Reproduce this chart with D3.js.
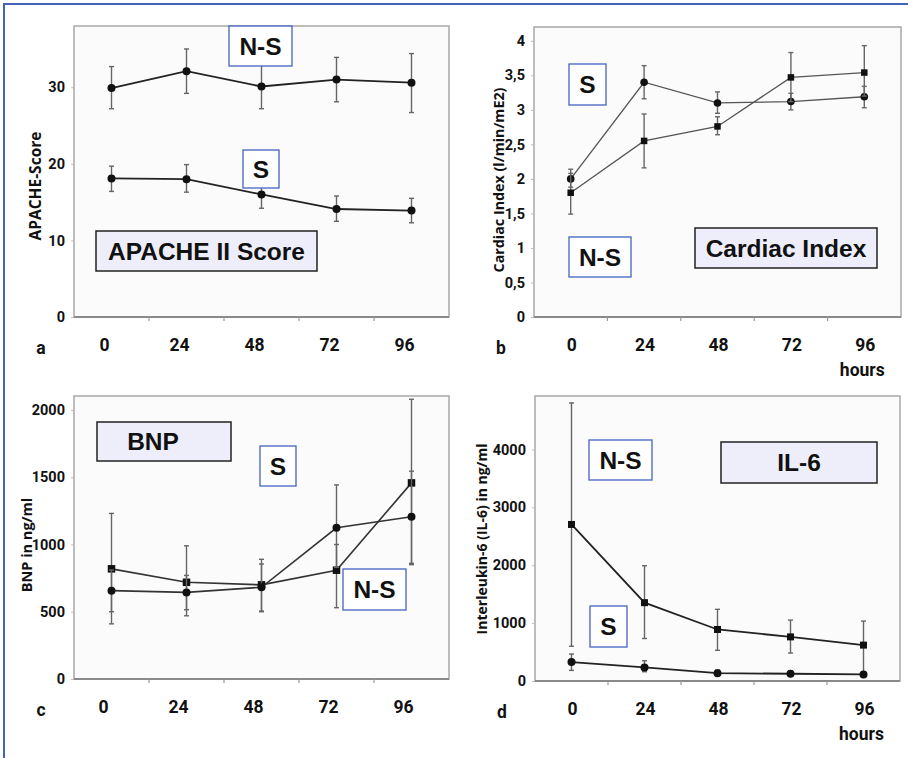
<!DOCTYPE html>
<html>
<head>
<meta charset="utf-8">
<script src="https://cdn.jsdelivr.net/npm/d3@7"></script>
<style>
  body { margin: 0; background: #fff; }
  text { font-family: Roboto, "Liberation Sans", sans-serif; }
</style>
</head>
<body>
<div id="wrapper"></div>
<script>
// hours after admission (category axis)
const hours = ["0", "24", "48", "72", "96"]

// a - APACHE II score
const apacheNS   = [29.9, 32.1, 30.1, 31.0, 30.6]
const apacheNSlo = [27.2, 29.2, 27.2, 28.1, 26.7]
const apacheNShi = [32.7, 35.0, 32.9, 33.9, 34.4]
const apacheS    = [18.1, 18.0, 16.0, 14.1, 13.9]
const apacheSlo  = [16.4, 16.3, 14.2, 12.5, 12.3]
const apacheShi  = [19.7, 19.9, 17.9, 15.8, 15.5]
const apacheTicks = [0, 10, 20, 30]

// b - cardiac index
const ciCircle   = [2.0, 3.4, 3.1, 3.12, 3.19]
const ciCircleLo = [1.88, 3.16, 2.95, 3.0, 3.03]
const ciCircleHi = [2.14, 3.64, 3.26, 3.24, 3.34]
const ciSquare   = [1.8, 2.55, 2.76, 3.47, 3.54]
const ciSquareLo = [1.49, 2.16, 2.64, 3.12, 3.2]
const ciSquareHi = [2.08, 2.94, 2.9, 3.83, 3.93]
const ciTicks = [0, 0.5, 1, 1.5, 2, 2.5, 3, 3.5, 4]

// c - BNP
const bnpSquare   = [819, 719, 700, 809, 1458]
const bnpSquareLo = [410, 470, 500, 530, 850]
const bnpSquareHi = [1231, 990, 890, 1000, 2080]
const bnpCircle   = [657, 644, 682, 1124, 1206]
const bnpCircleLo = [500, 515, 505, 830, 860]
const bnpCircleHi = [810, 770, 855, 1443, 1545]
const bnpTicks = [0, 500, 1000, 1500, 2000]

// d - IL-6
const il6Square   = [2704, 1353, 890, 762, 620]
const il6SquareLo = [600, 734, 530, 483, 150]
const il6SquareHi = [4803, 1991, 1238, 1052, 1035]
const il6Circle   = [327, 235, 136, 125, 113]
const il6CircleLo = [183, 160, 95, 90, 80]
const il6CircleHi = [466, 350, 190, 170, 160]
const il6Ticks = [0, 1000, 2000, 3000, 4000]

const zip = (v, lo, hi) => v.map((d, i) => ({ hour: hours[i], value: d, lo: lo[i], hi: hi[i] }))

const panels = [
  {
    letter: "a", left: 74, right: 449, top: 26, bottom: 317, yMax: 38, ticks: apacheTicks,
    labelDx: -7, hoursLabel: false, lineColor: "#222", lineWidth: 1.8,
    yTitle: "APACHE-Score", yTitleX: 36, yTitleY: 186, yTitleSize: 15.5,
    series: [
      { marker: "circle", size: 4, data: zip(apacheNS, apacheNSlo, apacheNShi) },
      { marker: "circle", size: 4, data: zip(apacheS, apacheSlo, apacheShi) },
    ],
    boxes: [
      { text: "N-S", x: 229, y: 26, w: 63, h: 40, kind: "blue" },
      { text: "S", x: 243, y: 150, w: 36, h: 38, kind: "blue" },
      { text: "APACHE II Score", x: 96, y: 231, w: 221, h: 40, kind: "title" },
    ],
  },
  {
    letter: "b", left: 534, right: 901, top: 27, bottom: 317, yMax: 4.2, ticks: ciTicks,
    labelDx: 1, hoursLabel: true, lineColor: "#555", lineWidth: 1.3,
    yTitle: "Cardiac Index (l/min/mE2)", yTitleX: 499, yTitleY: 180, yTitleSize: 14.3,
    series: [
      { marker: "circle", size: 3.8, data: zip(ciCircle, ciCircleLo, ciCircleHi) },
      { marker: "square", size: 6.5, data: zip(ciSquare, ciSquareLo, ciSquareHi) },
    ],
    boxes: [
      { text: "S", x: 569, y: 64, w: 37, h: 41, kind: "blue" },
      { text: "N-S", x: 569, y: 237, w: 62, h: 40, kind: "blue" },
      { text: "Cardiac Index", x: 695, y: 228, w: 182, h: 40, kind: "title" },
    ],
  },
  {
    letter: "c", left: 74, right: 449, top: 396, bottom: 679, yMax: 2104, ticks: bnpTicks,
    labelDx: -8, hoursLabel: false, lineColor: "#333", lineWidth: 1.6,
    yTitle: "BNP in ng/ml", yTitleX: 27, yTitleY: 545, yTitleSize: 14.5,
    series: [
      { marker: "square", size: 7.5, data: zip(bnpSquare, bnpSquareLo, bnpSquareHi) },
      { marker: "circle", size: 4, data: zip(bnpCircle, bnpCircleLo, bnpCircleHi) },
    ],
    boxes: [
      { text: "BNP", x: 97, y: 422, w: 134, h: 39, kind: "title", textX: 153 },
      { text: "S", x: 260, y: 446, w: 36, h: 40, kind: "blue" },
      { text: "N-S", x: 343, y: 569, w: 63, h: 41, kind: "blue" },
    ],
  },
  {
    letter: "d", left: 535, right: 900, top: 396, bottom: 681, yMax: 4923, ticks: il6Ticks,
    labelDx: 1, hoursLabel: true, lineColor: "#222", lineWidth: 1.8,
    yTitle: "Interleukin-6 (IL-6) in ng/ml", yTitleX: 482, yTitleY: 539, yTitleSize: 14,
    series: [
      { marker: "square", size: 7, data: zip(il6Square, il6SquareLo, il6SquareHi) },
      { marker: "circle", size: 4, data: zip(il6Circle, il6CircleLo, il6CircleHi) },
    ],
    boxes: [
      { text: "N-S", x: 589, y: 440, w: 63, h: 40, kind: "blue" },
      { text: "IL-6", x: 721, y: 442, w: 156, h: 41, kind: "title" },
      { text: "S", x: 590, y: 606, w: 37, h: 41, kind: "blue" },
    ],
  },
]

const width = 908
const height = 758

const svg = d3.select("#wrapper")
  .append("svg")
  .attr("width", width)
  .attr("height", height)

// outer blue frame
svg.append("rect")
  .attr("x", 4).attr("y", 4)
  .attr("width", width + 10).attr("height", height + 10)
  .attr("fill", "none")
  .attr("stroke", "#4463b8")
  .attr("stroke-width", 2)

const fmtComma = d => String(d).replace(".", ",")

panels.forEach(p => {
  const g = svg.append("g")

  const xScale = d3.scaleBand()
    .domain(hours)
    .range([p.left, p.right])
  const xMid = h => xScale(h) + xScale.bandwidth() / 2

  const yScale = d3.scaleLinear()
    .domain([0, p.yMax])
    .range([p.bottom, p.top])

  // plot area
  g.append("rect")
    .attr("x", p.left).attr("y", p.top)
    .attr("width", p.right - p.left).attr("height", p.bottom - p.top)
    .attr("fill", "#fbfbfb")
    .attr("stroke", "#a8a8a8")
    .attr("stroke-width", 1.5)

  // y axis
  const yAxis = g.append("g")
    .attr("transform", `translate(${p.left},0)`)
    .call(d3.axisLeft(yScale).tickValues(p.ticks).tickSize(3).tickPadding(6)
      .tickFormat(p.letter == "b" ? fmtComma : d3.format("d")))
  yAxis.select(".domain").remove()
  yAxis.selectAll("line").attr("stroke", "#bbb")
  yAxis.selectAll("text")
    .attr("fill", "#111")
    .style("font-size", "14.5px")
    .style("font-weight", "bold")
    .style("font-family", "Roboto")

  // x axis line with boundary ticks
  g.append("line")
    .attr("x1", p.left).attr("x2", p.right)
    .attr("y1", p.bottom).attr("y2", p.bottom)
    .attr("stroke", "#8a8a8a").attr("stroke-width", 2)
  g.selectAll(".btick")
    .data(hours.slice(1))
    .join("line")
    .attr("x1", d => xScale(d)).attr("x2", d => xScale(d))
    .attr("y1", p.bottom).attr("y2", p.bottom + 4)
    .attr("stroke", "#999").attr("stroke-width", 1.2)

  const xAxis = g.append("g")
    .attr("transform", `translate(${p.labelDx},${p.bottom + 22})`)
    .call(d3.axisBottom(xScale).tickSize(0).tickPadding(0))
  xAxis.select(".domain").remove()
  xAxis.selectAll("text")
    .attr("fill", "#111")
    .attr("dy", "0.71em")
    .style("font-size", "17.5px")
    .style("font-weight", "bold")

  g.append("text")
    .attr("x", p.left - 33).attr("y", p.bottom + 37)
    .attr("text-anchor", "middle")
    .attr("fill", "#111")
    .style("font-size", "17.5px").style("font-weight", "bold")
    .text(p.letter)

  if (p.hoursLabel) {
    g.append("text")
      .attr("x", xMid("96") - 2).attr("y", p.bottom + 59)
      .attr("text-anchor", "middle")
      .attr("fill", "#111")
      .style("font-size", "17.5px").style("font-weight", "bold")
      .text("hours")
  }

  g.append("text")
    .attr("transform", `translate(${p.yTitleX},${p.yTitleY}) rotate(-90)`)
    .attr("text-anchor", "middle")
    .attr("dy", "0.35em")
    .attr("fill", "#111")
    .style("font-family", "'Open Sans'")
    .style("font-size", p.yTitleSize + "px").style("font-weight", "bold")
    .text(p.yTitle)

  // series
  const line = d3.line()
    .x(d => xMid(d.hour))
    .y(d => yScale(d.value))

  p.series.forEach(s => {
    const eb = g.append("g")
    eb.selectAll(".bar")
      .data(s.data)
      .join("line")
      .attr("x1", d => xMid(d.hour)).attr("x2", d => xMid(d.hour))
      .attr("y1", d => yScale(d.lo)).attr("y2", d => yScale(d.hi))
      .attr("stroke", "#666").attr("stroke-width", 1.4)
    ;["lo", "hi"].forEach(k => {
      eb.selectAll(".cap" + k)
        .data(s.data)
        .join("line")
        .attr("x1", d => xMid(d.hour) - 2.5).attr("x2", d => xMid(d.hour) + 2.5)
        .attr("y1", d => yScale(d[k])).attr("y2", d => yScale(d[k]))
        .attr("stroke", "#666").attr("stroke-width", 1.4)
    })

    g.append("path")
      .datum(s.data)
      .attr("fill", "none")
      .attr("stroke", p.lineColor)
      .attr("stroke-width", p.lineWidth)
      .attr("d", line)

    if (s.marker == "circle") {
      g.selectAll(null)
        .data(s.data)
        .join("circle")
        .attr("cx", d => xMid(d.hour))
        .attr("cy", d => yScale(d.value))
        .attr("r", s.size)
        .attr("fill", "#111")
    } else {
      g.selectAll(null)
        .data(s.data)
        .join("rect")
        .attr("x", d => xMid(d.hour) - s.size / 2)
        .attr("y", d => yScale(d.value) - s.size / 2)
        .attr("width", s.size).attr("height", s.size)
        .attr("fill", "#111")
    }
  })

  // annotation boxes
  p.boxes.forEach(b => {
    g.append("rect")
      .attr("x", b.x).attr("y", b.y)
      .attr("width", b.w).attr("height", b.h)
      .attr("fill", b.kind == "title" ? "#eeeefb" : "#fff")
      .attr("stroke", b.kind == "title" ? "#222" : "#4463c0")
      .attr("stroke-width", b.kind == "title" ? 1.5 : 1.3)
    g.append("text")
      .attr("x", b.textX || b.x + b.w / 2)
      .attr("y", b.y + b.h / 2)
      .attr("dy", "0.36em")
      .attr("text-anchor", "middle")
      .attr("fill", "#111")
      .style("font-family", "'Liberation Sans', Arial, sans-serif")
      .style("font-size", "24.5px").style("font-weight", "bold")
      .text(b.text)
  })
})
</script>
</body>
</html>
